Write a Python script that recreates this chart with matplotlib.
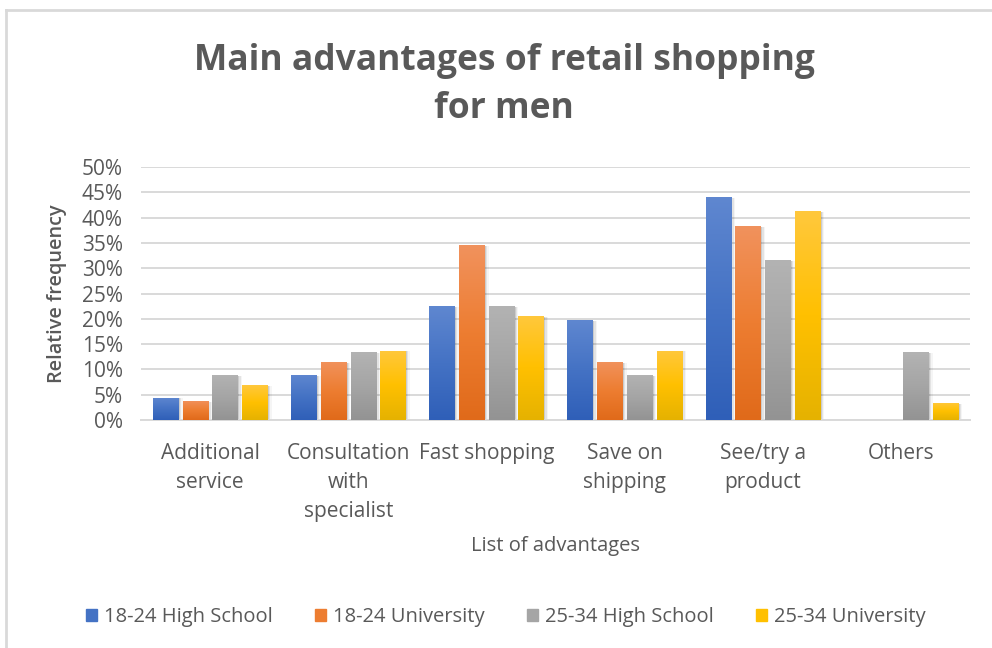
import numpy as np
import matplotlib.pyplot as plt
from matplotlib.patches import Rectangle
from matplotlib.lines import Line2D
from matplotlib.colors import LinearSegmentedColormap

plt.rcParams['font.family'] = ['Open Sans', 'DejaVu Sans']

categories = ['Additional\nservice', 'Consultation\nwith\nspecialist', 'Fast shopping',
              'Save on\nshipping', 'See/try a\nproduct', 'Others']
groups = ['18-24 High School', '18-24 University', '25-34 High School', '25-34 University']
hs_18_24 = [4.4, 8.9, 22.5, 19.7, 44.0, 0.0]
uni_18_24 = [3.8, 11.5, 34.5, 11.5, 38.3, 0.0]
hs_25_34 = [8.9, 13.4, 22.5, 8.9, 31.6, 13.4]
uni_25_34 = [6.9, 13.7, 20.6, 13.7, 41.3, 3.4]
series = [hs_18_24, uni_18_24, hs_25_34, uni_25_34]

# (top, middle, bottom) shades of each series colour
shades = [('#5f87d0', '#4472c4', '#2f5fb8'),
          ('#f1925d', '#ed7d31', '#e06a1a'),
          ('#b3b3b3', '#a5a5a5', '#939393'),
          ('#ffc83d', '#ffc000', '#e5b200')]

text_col = '#595959'
grid_col = '#d9d9d9'

fig = plt.figure(figsize=(9.92, 6.48), dpi=100)
ax = fig.add_axes([141/992, (648-420)/648, 829/992, 253/648])

x = np.arange(len(categories))
slot = 0.215
width = 0.182
for i, (vals, sh) in enumerate(zip(series, shades)):
    pos = x + (i - 1.5) * slot
    # soft shadow behind bars
    for k, a in enumerate([0.10, 0.07, 0.04]):
        off = 0.012 + 0.008 * k
        ax.bar(pos + off, np.array(vals), width=width + 0.004 * k,
               bottom=-0.15, color='#000000', alpha=a, linewidth=0, zorder=2)
    bars = ax.bar(pos, vals, width=width, color=sh[1], linewidth=0, zorder=3)
    cmap = LinearSegmentedColormap.from_list('g%d' % i, [sh[2], sh[1], sh[0]])
    grad = np.linspace(0, 1, 256).reshape(-1, 1)
    for b in bars:
        h = b.get_height()
        if h <= 0:
            continue
        x0 = b.get_x()
        im = ax.imshow(grad, cmap=cmap, origin='lower', aspect='auto',
                       extent=[x0, x0 + b.get_width(), 0, h], zorder=4)
        im.set_clip_path(b)

ax.set_xlim(-0.5, len(categories) - 0.5)
ax.set_ylim(0, 50)
ax.set_yticks(np.arange(0, 51, 5))
ax.set_yticklabels(['%d%%' % v for v in range(0, 51, 5)])
ax.set_xticks(x)
ax.set_xticklabels(categories, linespacing=1.5, va='top')
ax.tick_params(axis='both', length=0, labelsize=15, labelcolor=text_col)
ax.tick_params(axis='y', pad=13)
ax.tick_params(axis='x', pad=16.5)
ax.yaxis.grid(True, color=grid_col, linewidth=1.4, zorder=0)
ax.set_axisbelow(True)
for s in ['top', 'right', 'left']:
    ax.spines[s].set_visible(False)
ax.spines['bottom'].set_color(grid_col)
ax.spines['bottom'].set_linewidth(1.4)

ax.set_ylabel('Relative frequency', fontsize=14.3, color=text_col,
              fontweight='semibold')
ax.set_xlabel('List of advantages', fontsize=14.5, color=text_col)
ax.xaxis.set_label_coords(0.5, -(546 - 420) / 253)
ax.yaxis.set_label_coords(-(141 - 57) / 829, 0.5)
ax.xaxis.label.set_va('center')
ax.yaxis.label.set_va('center')

fig.text(504/992, 1 - 85/648, 'Main advantages of retail shopping\nfor men',
         ha='center', va='center', fontsize=25.5, fontweight='bold',
         color=text_col, linespacing=1.45)

handles = [Rectangle((0, 0), 1, 1, color=sh[1]) for sh in shades]
fig.legend(handles, groups, loc='center', bbox_to_anchor=(506/992, 1 - 617/648),
           ncol=4, frameon=False, fontsize=14.5, handlelength=0.55, handleheight=0.55,
           handletextpad=0.35, columnspacing=2.1, labelcolor=text_col)

# chart frame edges
fig.add_artist(Line2D([6/992, 6/992], [0, 1 - 10/648], transform=fig.transFigure,
                      color=grid_col, linewidth=2))
fig.add_artist(Line2D([6/992, 1], [1 - 10/648, 1 - 10/648], transform=fig.transFigure,
                      color=grid_col, linewidth=2))

fig.savefig('out.png', dpi=100)
